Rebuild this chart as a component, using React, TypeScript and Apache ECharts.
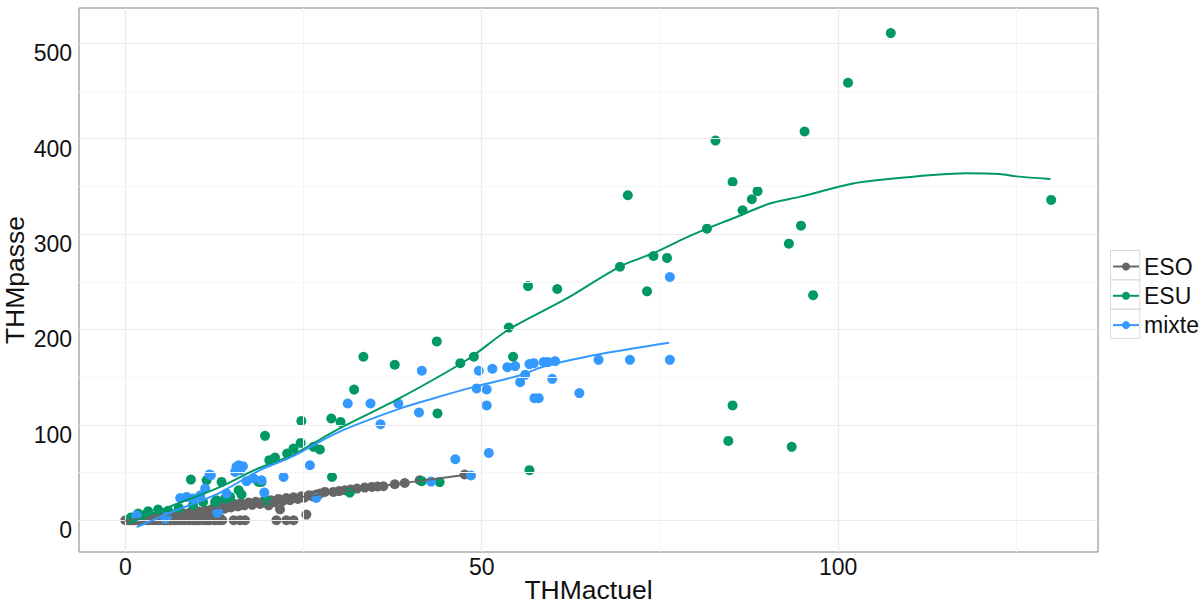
import React, { useEffect, useRef } from "react";
import * as echarts from "echarts";

const groups = ["ESO", "ESU", "mixte"];
const groupColors = ["#666666", "#009966", "#3399FF"];

const xTickValues = [0, 50, 100];
const yTickValues = [0, 100, 200, 300, 400, 500];
const xMinorValues = [25, 75, 125];
const yMinorValues = [50, 150, 250, 350, 450];

const esoPoints = [
  [0, 0], [0.4, 0], [0.9, 0], [1.3, 0], [1.8, 0], [2.3, 0], [2.9, 0], [3.3, 0], [3.9, 0], [4.4, 0],
  [4.8, 0], [5.4, 0], [5.9, 0], [6.3, 0], [6.9, 0], [7.4, 0], [7.9, 0], [8.3, 0], [8.9, 0], [9.4, 0],
  [9.9, 0], [10.3, 0], [10.9, 0], [11.4, 0], [11.8, 0], [12.5, 0], [13.1, 0], [13.6, 0], [15.2, 0],
  [16.1, 0], [16.8, 0], [21.2, 0], [22.6, 0], [23.6, 0],
  [0.5, 0.6], [1, 1], [1.6, 1.4], [2.1, 0.7], [2.6, 2.4], [3, 1.5], [3.6, 3.2], [4.1, 1.9], [4.6, 4.1],
  [5.1, 2.6], [5.6, 5], [5.8, 1.2], [6.4, 3.6], [6.8, 6.1], [7.2, 2.3], [7.6, 4.9], [8.1, 7.4], [8.4, 1.6],
  [8.7, 3.9], [9.1, 8.3], [9.4, 5.7], [9.8, 2.8], [10.2, 9.4], [10.5, 7], [10.9, 4.4], [11.2, 10.5],
  [11.5, 1.9], [11.7, 8.4], [12.1, 11.6], [12.3, 5.6], [12.7, 13.8], [12.9, 9.9], [13.3, 2.1],
  [13.4, 15.6], [13.9, 12.1], [14.4, 16.2], [14.8, 13.4], [15.3, 17], [15.8, 14.6], [16.2, 17.9],
  [16.7, 15.7], [17.3, 18.6], [17.8, 16.2], [18.3, 19.4], [18.9, 17.1], [19.4, 20.2], [20.1, 15.7],
  [20.4, 21.1], [20.9, 18.9], [21.5, 22.4], [21.7, 11.5], [22.1, 20.3], [22.6, 23.3], [23.1, 21.2],
  [23.6, 24.1], [24.2, 22.4], [24.7, 25.2], [25.1, 23.6], [25.4, 6], [25.8, 26.3], [26.3, 24.9],
  [26.8, 27.1], [27.3, 28], [28, 29.7], [29.2, 29.7], [30, 30.6], [30.8, 31.5], [31.6, 32.2],
  [32.5, 33.2], [33.6, 34.3], [34.6, 35], [35.4, 35.4], [36.2, 35.7], [37.8, 37.8], [39.2, 39.1],
  [41.3, 42], [47.6, 48],
];

const esuPoints = [
  [107.4, 510.7], [101.4, 458.6], [95.3, 407.5], [82.8, 398], [85.2, 354.7], [88.7, 345], [87.9, 336.5],
  [86.6, 325], [81.6, 305.7], [93.1, 290], [94.8, 308.8], [70.5, 340.7], [69.4, 265.8], [74.1, 277],
  [76, 275], [73.2, 240], [56.5, 245.5], [60.6, 242.4], [129.9, 335.8], [96.5, 236], [85.2, 120.4],
  [84.6, 83.2], [93.5, 77], [53.8, 202], [43.7, 187.5], [47, 164.7], [48.9, 171.4], [54.4, 171.4],
  [43.8, 112], [56.7, 52.5], [41.6, 41], [44.1, 40], [33.4, 171.4], [37.8, 163], [32.1, 137],
  [28.9, 106.7], [30.2, 103], [24.7, 104.2], [19.6, 88.5], [24.6, 81.1], [23.6, 75.2], [22.7, 70],
  [21, 65.8], [20.2, 63], [26.4, 77], [27.3, 74.2], [29, 45.4], [19.1, 40.2], [9.2, 42.7], [11.4, 42],
  [13.5, 40.2], [15.9, 31.5], [16.3, 27], [18.7, 40.2], [14, 22.8], [14.7, 24.5], [12.6, 19.2],
  [12.8, 21], [10.9, 19.2], [9.5, 16], [31.5, 29], [3.2, 9.4], [1.8, 7], [4.6, 11.2], [19.8, 21],
  [6, 10], [7.5, 13], [2.5, 5], [0.8, 3],
];

const mixtePoints = [
  [76.4, 255], [41.6, 156.7], [49.6, 156.7], [51.5, 158.8], [53.6, 160.5], [54.7, 161.6], [56.7, 163.7],
  [57.3, 164.7], [58.7, 166], [59.3, 165.8], [60.3, 166.8], [66.4, 168.2], [70.8, 168.2], [76.4, 168.2],
  [56.1, 152.5], [55.4, 144.8], [49.3, 138.2], [50.7, 137.1], [50.7, 120.4], [59.9, 148.3], [57.4, 128],
  [58, 128], [63.7, 133.3], [41.2, 113], [46.3, 64], [51, 70.6], [42.9, 40.6], [48.5, 46.9],
  [31.2, 122.4], [34.4, 122.4], [35.8, 100.7], [38.3, 122.4], [25.9, 57.7], [22.2, 45.4], [19.1, 42],
  [19.5, 29], [15.6, 56], [16.5, 56.7], [15.9, 57.7], [16.1, 52.5], [15.4, 50.7], [12, 47.2], [11.8, 48],
  [11.2, 33.2], [7.7, 23.4], [8.6, 24.5], [9.5, 22.8], [10.5, 26], [12.9, 8], [13, 8.7], [26.8, 23.4],
  [17, 41], [18, 43.8], [5.6, 1.8], [1.6, 3.5], [1.6, 5.2], [14.2, 28], [5.8, 3.5],
];

const esoFit = [
  [0, -0.5], [10, 9.5], [20, 19.5], [27.3, 27], [35, 35], [40, 40], [47.6, 47.5],
];

const esuFit = [
  [0.3, -3.5], [7, 16.5], [13, 34], [18.4, 53.5], [23.3, 68], [30, 96], [38.5, 128], [47.9, 168],
  [53.8, 200], [61.8, 232], [69.4, 266], [74.1, 280], [78.3, 295], [81.6, 305.7], [85.3, 316.6],
  [90.4, 332], [94.6, 339], [102.1, 353], [106.8, 357.5], [113.3, 362], [118, 363.8], [122.7, 363],
  [125, 360.5], [129.8, 357.8],
];

const mixteFit = [
  [1.6, -7], [7, 10], [13, 28], [18.9, 52.5], [23.3, 66.4], [30, 92.7], [38.5, 117], [43.2, 127.7],
  [49.3, 140.6], [55.4, 152], [58.6, 161], [64.7, 171.4], [71.2, 180], [76.3, 186],
];

const FONT = "'Liberation Sans', Arial, Helvetica, sans-serif";

export default function App() {
  const ref = useRef<HTMLDivElement>(null);

  useEffect(() => {
    if (!ref.current) return;
    const chart = echarts.init(ref.current, null, { renderer: "svg" });

    const fits = [esoFit, esuFit, mixteFit];
    const pts = [esoPoints, esuPoints, mixtePoints];

    const gridLines = [
      ...xTickValues.map((v) => ({ xAxis: v, lineStyle: { color: "#ebebeb", width: 1.2, type: "solid" } })),
      ...xMinorValues.map((v) => ({ xAxis: v, lineStyle: { color: "#f5f5f5", width: 1, type: "solid" } })),
      ...yTickValues.map((v) => ({ yAxis: v, lineStyle: { color: "#ebebeb", width: 1.2, type: "solid" } })),
      ...yMinorValues.map((v) => ({ yAxis: v, lineStyle: { color: "#f5f5f5", width: 1, type: "solid" } })),
    ];

    const series: any[] = [];
    groups.forEach((g, i) => {
      series.push({
        name: g,
        type: "line",
        data: fits[i],
        symbol: "circle",
        showSymbol: false,
        smooth: 0.3,
        z: 5,
        lineStyle: { color: groupColors[i], width: 2 },
        itemStyle: { color: groupColors[i] },
        silent: true,
      });
    });
    groups.forEach((g, i) => {
      series.push({
        name: g,
        type: "scatter",
        data: pts[i],
        symbol: "circle",
        symbolSize: 10,
        z: 3,
        itemStyle: { color: groupColors[i], opacity: 1 },
        silent: true,
      });
    });
    series.push({
      name: "grid",
      type: "line",
      data: [],
      z: 1,
      silent: true,
      markLine: {
        silent: true,
        symbol: "none",
        label: { show: false },
        animation: false,
        data: gridLines,
      },
    });

    const rowTop = 250.5;
    const rowH = 29.3;
    const boxes = groups.map((_, i) => ({
      type: "rect",
      shape: { x: 1110.5, y: rowTop + i * rowH, width: 29.3, height: rowH },
      style: { fill: "none", stroke: "#d9d9d9", lineWidth: 1 },
      silent: true,
    }));

    chart.setOption({
      animation: false,
      backgroundColor: "#ffffff",
      textStyle: { fontFamily: FONT },
      grid: {
        left: 79,
        right: 105,
        top: 8,
        bottom: 53,
        show: true,
        borderColor: "#7f7f7f",
        borderWidth: 1,
        containLabel: false,
        outerBoundsMode: "none",
      },
      legend: {
        data: groups,
        orient: "vertical",
        left: 1107,
        top: 250,
        itemWidth: 26,
        itemHeight: 10,
        itemGap: 6.3,
        textStyle: { fontSize: 23, color: "#111", fontFamily: FONT },
        selectedMode: false,
      },
      graphic: boxes,
      xAxis: {
        type: "value",
        min: -6.5,
        max: 136.47,
        name: "THMactuel",
        nameLocation: "middle",
        nameGap: 26,
        nameMoveOverlap: false,
        nameTextStyle: { fontSize: 26.5, lineHeight: 24, color: "#111", fontFamily: FONT },
        axisLine: { show: false },
        splitLine: { show: false },
        axisTick: { show: true, customValues: xTickValues, length: 4, lineStyle: { color: "#7f7f7f" } },
        axisLabel: {
          customValues: xTickValues,
          fontSize: 23,
          lineHeight: 23,
          color: "#111",
          margin: 3,
          fontFamily: FONT,
        },
      },
      yAxis: {
        type: "value",
        min: -33.25,
        max: 537,
        name: "THMpasse",
        nameLocation: "middle",
        nameGap: 52,
        nameMoveOverlap: false,
        nameTextStyle: { fontSize: 26.5, lineHeight: 24, color: "#111", fontFamily: FONT },
        axisLine: { show: false },
        splitLine: { show: false },
        axisTick: { show: true, customValues: yTickValues, length: 4, lineStyle: { color: "#7f7f7f" } },
        axisLabel: {
          customValues: yTickValues,
          fontSize: 23,
          lineHeight: 20,
          verticalAlign: "top",
          color: "#111",
          margin: 7,
          fontFamily: FONT,
        },
      },
      series,
    });

    return () => chart.dispose();
  }, []);

  return (
    <div
      ref={ref}
      style={{ position: "absolute", left: 0, top: 0, width: 1203, height: 605, background: "#fff" }}
    />
  );
}
